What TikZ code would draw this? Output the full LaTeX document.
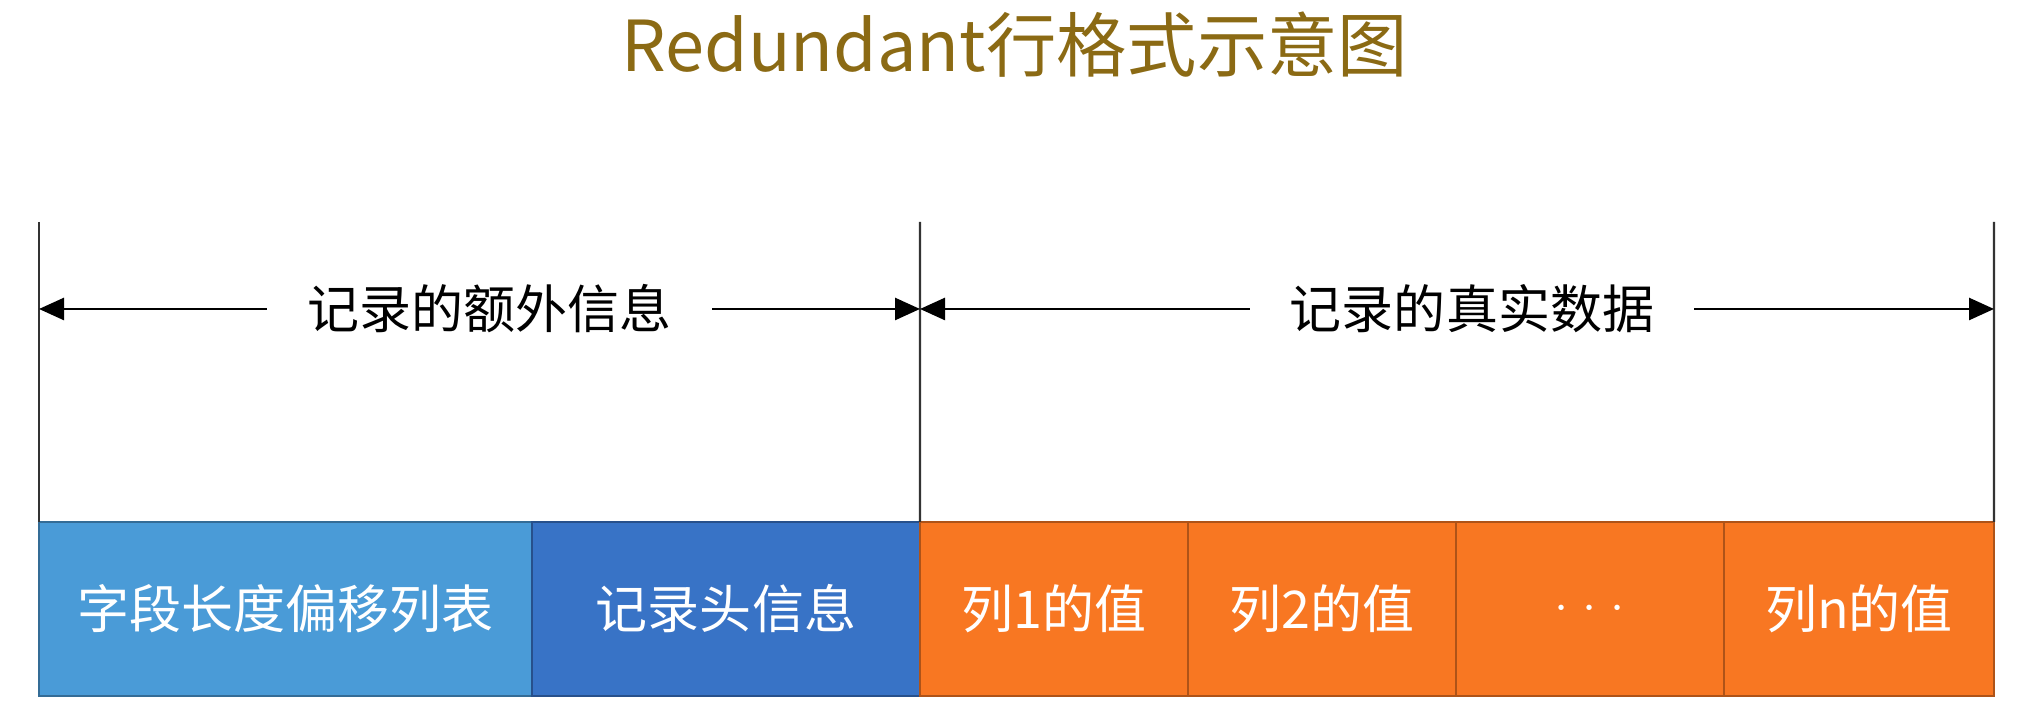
\documentclass[tikz,border=0pt]{standalone}
\usepackage{fontspec}
\setmainfont{Noto Sans CJK SC}
\usetikzlibrary{arrows.meta,positioning}
\definecolor{title}{HTML}{8B6A14}
\definecolor{lblue}{HTML}{4A9BD7}
\definecolor{dblue}{HTML}{3873C6}
\definecolor{orange}{HTML}{F87722}

\begin{document}
\begin{tikzpicture}[x=1cm,y=1cm,>={Triangle[length=.25cm,width=.22cm]},
      cell/.style={rounded corners=0pt,minimum height=1.74cm,inner sep=0pt,outer sep=0pt,
                   line width=.8pt,text=white,font=\fontsize{14.8}{17}\selectfont},
      offsetcell/.style={cell,fill=lblue,draw=lblue!70!black},
      headcell/.style={cell,fill=dblue,draw=dblue!70!black},
      valcell/.style={cell,fill=orange,draw=orange!70!black},
      guide/.style={line width=.6pt,draw=black!80},
      span/.style={<->,line width=.75pt,draw=black},
      spanlabel/.style={fill=white,inner xsep=.4cm,inner ysep=2pt,font=\fontsize{14.8}{17}\selectfont}]
    \useasboundingbox (0,0) rectangle (20.2,7.28);
    \node[font=\fontsize{20}{24}\selectfont,text=title] (ttl) at (10.15,6.83) {Redundant行格式示意图};

    % the record row
    \node[offsetcell,minimum width=4.93cm,anchor=south west] (offs) at (.39,.32) {字段长度偏移列表};
    \node[headcell,minimum width=3.88cm,right=0pt of offs] (hdr) {记录头信息};
    \node[valcell,minimum width=2.68cm,right=0pt of hdr] (col1) {列1的值};
    \node[valcell,minimum width=2.68cm,right=0pt of col1] (col2) {列2的值};
    \node[valcell,minimum width=2.68cm,right=0pt of col2] (dots) {${\cdot}\;{\cdot}\;{\cdot}$};
    \node[valcell,minimum width=2.70cm,right=0pt of dots] (coln) {列n的值};

    % extent marks
    \coordinate (ltop) at (.39,5.06);
    \coordinate (mtop) at (9.20,5.06);
    \coordinate (rtop) at (19.94,5.06);
    \draw[guide] (ltop) -- (offs.north west);
    \draw[guide] (mtop) -- (col1.north west);
    \draw[guide] (rtop) -- (coln.north east);

    \coordinate (la) at (.39,4.19);
    \coordinate (ma) at (9.20,4.19);
    \coordinate (ra) at (19.94,4.19);
    \draw[span] (la) -- node[spanlabel,xshift=.1cm] (extra) {记录的额外信息} (ma);
    \draw[span] (ma) -- node[spanlabel,xshift=.15cm] (real) {记录的真实数据} (ra);
\end{tikzpicture}
\end{document}
